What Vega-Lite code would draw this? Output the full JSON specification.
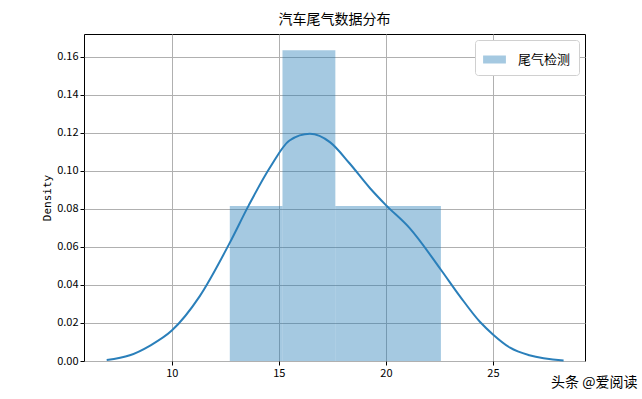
{
  "$schema": "https://vega.github.io/schema/vega-lite/v6.json",
  "autosize": {"type": "none"},
  "padding": {"left": 84, "top": 34, "right": 57, "bottom": 38},
  "width": 501,
  "height": 327,
  "background": "white",
  "title": {"text": "汽车尾气数据分布", "font": "Noto Sans CJK SC", "fontSize": 14, "fontWeight": "normal", "color": "#000", "offset": 7},
  "config": {
    "view": {"stroke": "#000", "strokeWidth": 1},
    "axis": {
      "labelFont": "Noto Sans CJK SC", "labelFontSize": 11, "labelColor": "#000",
      "titleFont": "DejaVu Sans Mono", "titleFontSize": 11, "titleFontWeight": "normal", "titleColor": "#000",
      "grid": true, "gridColor": "#b0b0b0", "gridWidth": 1,
      "tickColor": "#000", "tickSize": 4, "domain": false
    }
  },
  "datasets": {
    "bars": [
      {"start": 12.71, "end": 15.17, "density": 0.0815, "label": "尾气检测"},
      {"start": 15.17, "end": 17.64, "density": 0.1635, "label": "尾气检测"},
      {"start": 17.64, "end": 20.10, "density": 0.0815, "label": "尾气检测"},
      {"start": 20.10, "end": 22.57, "density": 0.0815, "label": "尾气检测"}
    ],
    "kde": [
      {"x": 6.96, "y": 0.0005},
      {"x": 8.04, "y": 0.003},
      {"x": 8.97, "y": 0.008},
      {"x": 10.0, "y": 0.016},
      {"x": 11.3, "y": 0.034},
      {"x": 12.7, "y": 0.062},
      {"x": 13.6, "y": 0.082},
      {"x": 14.6, "y": 0.102},
      {"x": 15.5, "y": 0.116},
      {"x": 16.45, "y": 0.1195},
      {"x": 17.4, "y": 0.115},
      {"x": 18.3, "y": 0.104},
      {"x": 19.25, "y": 0.091},
      {"x": 20.0, "y": 0.082},
      {"x": 21.1, "y": 0.070},
      {"x": 22.57, "y": 0.048},
      {"x": 23.46, "y": 0.034},
      {"x": 24.4, "y": 0.0205},
      {"x": 25.0, "y": 0.014},
      {"x": 25.8, "y": 0.007},
      {"x": 26.7, "y": 0.003},
      {"x": 28.3, "y": 0.0003}
    ]
  },
  "layer": [
    {
      "data": {"name": "bars"},
      "mark": {"type": "rect", "opacity": 0.4},
      "encoding": {
        "x": {"field": "start", "type": "quantitative", "scale": {"domain": [5.9, 29.3], "nice": false, "zero": false},
              "axis": {"values": [10, 15, 20, 25], "title": "头条 @爱阅读", "titleFont": "Noto Sans CJK SC", "titleFontSize": 14, "titleAnchor": "end", "titleAlign": "right", "titleBaseline": "alphabetic", "titleX": 553, "titleY": 25}},
        "x2": {"field": "end"},
        "y": {"field": "density", "type": "quantitative", "scale": {"domain": [0, 0.172], "nice": false},
              "axis": {"values": [0, 0.02, 0.04, 0.06, 0.08, 0.1, 0.12, 0.14, 0.16], "format": ".2f", "title": "Density"}},
        "y2": {"datum": 0},
        "color": {"field": "label", "type": "nominal", "scale": {"range": ["#1f77b4"]},
                  "legend": {"title": null, "orient": "top-right", "offset": 6, "labelFont": "Noto Sans CJK SC", "labelFontSize": 13, "labelColor": "#000",
                             "symbolType": "M-1,-0.35H1V0.35H-1Z", "symbolSize": 520, "symbolOpacity": 0.4, "symbolStrokeWidth": 0,
                             "fillColor": "white", "strokeColor": "#d0d0d0", "cornerRadius": 3, "padding": 8, "labelOffset": 12}}
      }
    },
    {
      "data": {"name": "kde"},
      "mark": {"type": "line", "interpolate": "monotone", "color": "#2a7fba", "strokeWidth": 2},
      "encoding": {
        "x": {"field": "x", "type": "quantitative"},
        "y": {"field": "y", "type": "quantitative"}
      }
    }
  ]
}
